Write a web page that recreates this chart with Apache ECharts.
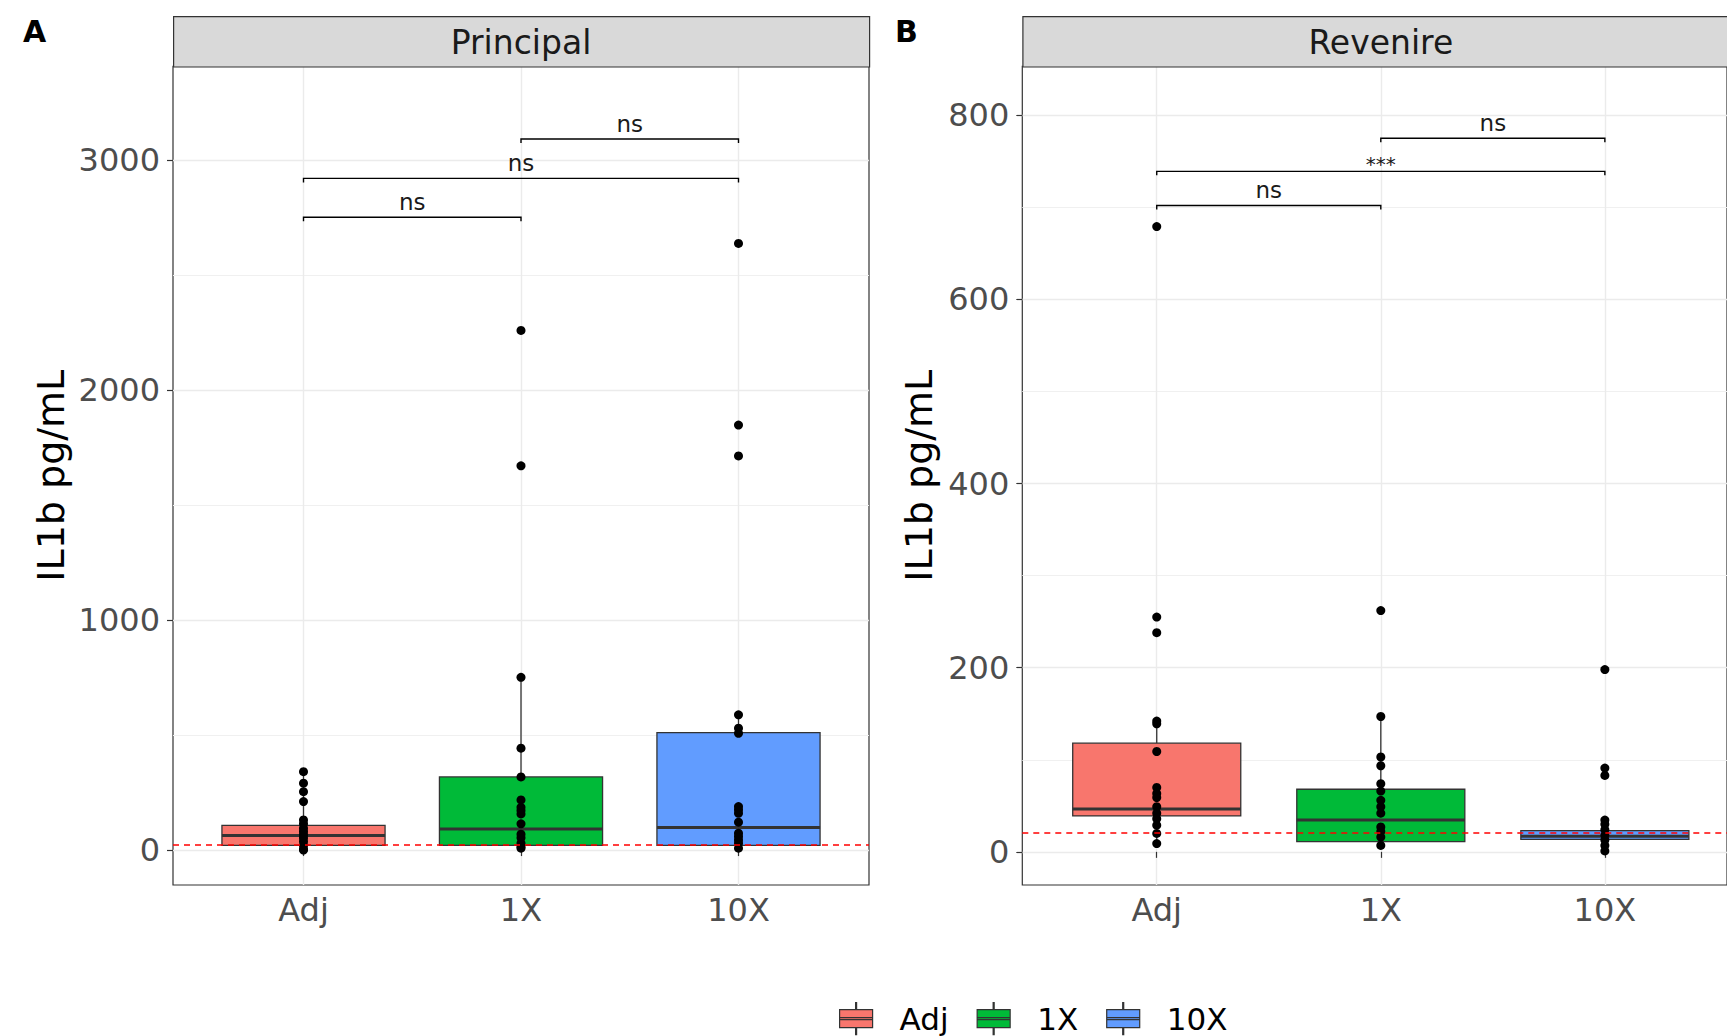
<!DOCTYPE html>
<html>
<head>
<meta charset="utf-8">
<script src="https://cdn.jsdelivr.net/npm/echarts@6/dist/echarts.min.js"></script>
<style>
html,body{margin:0;padding:0;background:#fff;}
#chart{width:1727px;height:1036px;}
</style>
</head>
<body>
<div id="chart"></div>
<script>
// ---------- data ----------
const CATEGORIES = ['Adj', '1X', '10X'];
const PANELS = ['Principal', 'Revenire'];
const PANEL_TAGS = ['A', 'B'];
const COLORS = ['#F8766D', '#00BA38', '#619CFF'];
const Y_TITLE = 'IL1b pg/mL';

// raw points
const principalAdj = [341, 291, 254, 211, 131, 114, 95, 81, 66, 52, 37, 20, 4, 0];
const principal1X = [2260, 1671, 751, 443, 318, 218, 186, 172, 157, 114, 69, 54, 30, 14, 8];
const principal10X = [2638, 1848, 1714, 588, 530, 508, 189, 175, 160, 121, 73, 59, 44, 30, 8];
const revenireAdj = [679, 255, 238, 142, 139, 109, 70, 63.5, 59, 49, 42, 36, 29, 20, 9];
const revenire1X = [262, 147, 103, 93.5, 74, 66, 56, 49, 42, 27, 22, 16, 7];
const revenire10X = [198, 91, 83, 34.5, 30, 24, 18, 13, 7, 1];

// box stats: [lower whisker, Q1, median, Q3, upper whisker]
const principalBoxAdj = [0, 20, 63, 107, 341];
const principalBox1X = [8, 20, 92, 318, 751];
const principalBox10X = [5, 20, 98, 511, 588];
const revenireBoxAdj = [9, 39, 46.5, 118, 142];
const revenireBox1X = [7, 11, 34.5, 68, 147];
const revenireBox10X = [1, 13.5, 17, 23, 34.5];

// axes
const principalRange = [-152, 3408];
const revenireRange = [-36, 853];
const principalTicks = [0, 1000, 2000, 3000];
const principalMinor = [500, 1500, 2500];
const revenireTicks = [0, 200, 400, 600, 800];
const revenireMinor = [100, 300, 500, 700];

// detection limit (dashed red line)
const LOD = 21;

// significance brackets: [group from, group to, y level, label]
const principalBrackets = [[1, 2, 2752, 'ns'], [1, 3, 2921, 'ns'], [2, 3, 3092, 'ns']];
const revenireBrackets = [[1, 2, 702, 'ns'], [1, 3, 739, '***'], [2, 3, 775, 'ns']];

// ---------- build chart ----------
const FONT = "'DejaVu Sans', sans-serif";
const W = 1727;
const panelPoints = [[principalAdj, principal1X, principal10X], [revenireAdj, revenire1X, revenire10X]];
const panelBoxes = [[principalBoxAdj, principalBox1X, principalBox10X], [revenireBoxAdj, revenireBox1X, revenireBox10X]];
const panelRanges = [principalRange, revenireRange];
const panelTicks = [principalTicks, revenireTicks];
const panelMinor = [principalMinor, revenireMinor];
const panelBrackets = [principalBrackets, revenireBrackets];
const catValues = CATEGORIES.map((c, i) => i + 1);

// full (unclipped) panel boxes; the right panel runs past the page edge
const PANEL_BOX = [
  { left: 173, top: 66.4, width: 696, height: 818.6 },
  { left: 1022.3, top: 66.4, width: 717, height: 818.6 }
];
const NAME_GAPS = [103, 84];
const BOX_W = 0.75;
const X_EXPAND = 0.6;

function renderBox(params, api) {
  const x = api.value(0);
  const lo = api.coord([x, api.value(1)]);
  const q1 = api.coord([x, api.value(2)]);
  const med = api.coord([x, api.value(3)]);
  const q3 = api.coord([x, api.value(4)]);
  const hi = api.coord([x, api.value(5)]);
  const hw = api.size([BOX_W, 0])[0] / 2;
  const cx = q1[0];
  const color = api.visual('color');
  const ls = { stroke: '#333333', lineWidth: 1.3 };
  return {
    type: 'group',
    children: [
      { type: 'line', shape: { x1: cx, y1: hi[1], x2: cx, y2: q3[1] }, style: ls },
      { type: 'line', shape: { x1: cx, y1: q1[1], x2: cx, y2: lo[1] }, style: ls },
      { type: 'rect', shape: { x: cx - hw, y: q3[1], width: 2 * hw, height: q1[1] - q3[1] },
        style: { fill: color, stroke: '#333333', lineWidth: 1.3 } },
      { type: 'line', shape: { x1: cx - hw, y1: med[1], x2: cx + hw, y2: med[1] },
        style: { stroke: '#333333', lineWidth: 3 } }
    ]
  };
}

function makeBracketRenderer(list) {
  return function (params, api) {
    const p1 = api.coord([api.value(0), api.value(2)]);
    const p2 = api.coord([api.value(1), api.value(2)]);
    const txt = list[params.dataIndex][3];
    const stars = /^\*+$/.test(txt);
    const tip = 4;
    return {
      type: 'group',
      children: [
        { type: 'polyline',
          shape: { points: [[p1[0], p1[1] + tip], [p1[0], p1[1]], [p2[0], p2[1]], [p2[0], p2[1] + tip]] },
          style: { stroke: '#000', lineWidth: 1.4, fill: null } },
        { type: 'text', x: (p1[0] + p2[0]) / 2, y: stars ? p1[1] + 3 : p1[1] - 4,
          style: { text: txt, fontSize: stars ? 20 : 23, fill: '#1a1a1a', align: 'center',
                   verticalAlign: 'bottom', fontFamily: FONT } }
      ]
    };
  };
}

const grids = [], xAxes = [], yAxes = [], series = [], graphics = [];

PANELS.forEach((panel, p) => {
  const box = PANEL_BOX[p];
  const unitPx = box.width / (CATEGORIES.length - 1 + 2 * X_EXPAND);
  const visWidth = Math.min(box.width, W - box.left);
  const xMin = 1 - X_EXPAND;
  const xMax = xMin + visWidth / unitPx;
  grids.push({ left: box.left, top: box.top, width: visWidth, height: box.height,
    show: true, borderColor: '#333333', borderWidth: 1.2, backgroundColor: '#fff', containLabel: false });

  xAxes.push({
    type: 'value', gridIndex: p, min: xMin, max: xMax,
    axisLine: { show: false },
    axisTick: { show: true, length: 6, customValues: catValues, lineStyle: { color: '#333333', width: 1.2 } },
    axisLabel: { customValues: catValues, formatter: v => CATEGORIES[Math.round(v) - 1] || '',
                 fontSize: 32, color: '#4d4d4d', fontFamily: FONT, margin: 9 },
    splitLine: { show: true, lineStyle: { color: '#ebebeb', width: 1.4 } }
  });

  // main y axis
  yAxes.push({
    type: 'value', gridIndex: p, min: panelRanges[p][0], max: panelRanges[p][1],
    name: Y_TITLE, nameLocation: 'middle', nameGap: NAME_GAPS[p], nameRotate: 90,
    nameTextStyle: { fontSize: 38, color: '#000', fontFamily: FONT },
    axisLine: { show: false },
    axisTick: { show: true, length: 6, customValues: panelTicks[p], lineStyle: { color: '#333333', width: 1.2 } },
    axisLabel: { customValues: panelTicks[p], formatter: v => String(v),
                 fontSize: 32, color: '#4d4d4d', fontFamily: FONT, margin: 13 },
    splitLine: { show: true, lineStyle: { color: '#ebebeb', width: 1.4 } }
  });
  // minor grid axis (invisible except its split lines)
  yAxes.push({
    type: 'value', gridIndex: p, min: panelRanges[p][0], max: panelRanges[p][1],
    axisLine: { show: false },
    axisTick: { show: false, customValues: panelMinor[p] },
    axisLabel: { show: false, customValues: panelMinor[p] },
    splitLine: { show: true, lineStyle: { color: '#f0f0f0', width: 1 } }
  });
  const yIdx = p * 2;

  // boxes
  CATEGORIES.forEach((cat, c) => {
    series.push({
      type: 'custom', name: cat, xAxisIndex: p, yAxisIndex: yIdx, z: 2,
      itemStyle: { color: COLORS[c] },
      renderItem: renderBox,
      encode: { x: 0, y: [1, 2, 3, 4, 5] },
      data: [[c + 1].concat(panelBoxes[p][c])],
      silent: true
    });
  });

  // dashed detection limit line
  series.push({
    type: 'line', name: 'lod' + p, xAxisIndex: p, yAxisIndex: yIdx, z: 3, data: [],
    markLine: { silent: true, symbol: 'none', label: { show: false },
      lineStyle: { color: '#ff0000', type: [6, 5], width: 1.6 },
      data: [{ yAxis: LOD }] }
  });

  // raw points
  const pts = [];
  CATEGORIES.forEach((cat, c) => panelPoints[p][c].forEach(v => pts.push([c + 1, v])));
  series.push({
    type: 'scatter', name: 'points' + p, xAxisIndex: p, yAxisIndex: yIdx, z: 4,
    symbolSize: 9, itemStyle: { color: '#000', opacity: 1 }, data: pts, silent: true
  });

  // significance brackets
  series.push({
    type: 'custom', name: 'sig' + p, xAxisIndex: p, yAxisIndex: yIdx, z: 4,
    renderItem: makeBracketRenderer(panelBrackets[p]),
    encode: { x: [0, 1], y: 2 },
    data: panelBrackets[p].map(b => [b[0], b[1], b[2]]),
    silent: true
  });

  // facet strip
  graphics.push({
    type: 'rect', left: box.left, top: 16, z: 10,
    shape: { width: box.width, height: box.top - 16 },
    style: { fill: '#d9d9d9', stroke: '#333333', lineWidth: 1.2 }
  });
  graphics.push({
    type: 'text', x: box.left + box.width / 2, y: 42, z: 11,
    style: { text: panel, fontSize: 33, fill: '#1a1a1a', fontFamily: FONT, align: 'center', verticalAlign: 'middle' }
  });
  // panel tag
  graphics.push({
    type: 'text', x: p === 0 ? 23 : 895, y: 31, z: 11,
    style: { text: PANEL_TAGS[p], fontSize: 30, fontWeight: 'bold', fill: '#000', fontFamily: FONT,
             align: 'left', verticalAlign: 'middle' }
  });
});

const LEGEND_ICON = 'path://M0,7L33,7L33,25L0,25Z M0,15L33,15L33,17L0,17Z M16,0L17,0L17,7L16,7Z M16,25L17,25L17,32L16,32Z';

const option = {
  animation: false,
  backgroundColor: '#ffffff',
  grid: grids,
  xAxis: xAxes,
  yAxis: yAxes,
  legend: {
    data: CATEGORIES, left: 839, top: 1002, orient: 'horizontal', padding: 0,
    itemWidth: 33, itemHeight: 32, itemGap: 28, icon: LEGEND_ICON,
    itemStyle: { borderColor: '#333333', borderWidth: 1.2 },
    textStyle: { fontSize: 31, lineHeight: 32, color: '#000', fontFamily: FONT, padding: [0, 0, 0, 22] },
    selectedMode: false
  },
  graphic: graphics,
  series: series
};

const chart = echarts.init(document.getElementById('chart'), null, { renderer: 'svg', width: 1727, height: 1036 });
chart.setOption(option);
</script>
</body>
</html>
